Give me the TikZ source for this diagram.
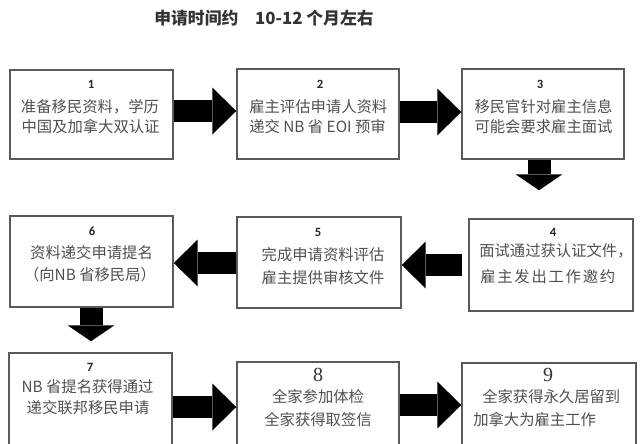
\documentclass[tikz,border=0pt]{standalone}
\usepackage{fontspec}
\usetikzlibrary{arrows.meta,calc}
\newfontfamily\cjk{Noto Sans CJK SC}
\newfontfamily\calnum{Carlito}
\newfontfamily\sernum{Liberation Serif}
\newdimen\pxu \pxu=0.75pt
\definecolor{txtgray}{HTML}{505050}
\definecolor{boxgray}{HTML}{5A5A5A}
\definecolor{titlegray}{HTML}{333333}
\begin{document}
\begin{tikzpicture}[x=0.75pt,y=-0.75pt,
  stepbox/.style={draw=boxgray, line width=1.1pt, inner sep=0pt},
  txtline/.style={font=\cjk\fontsize{11.5}{14}\selectfont, text=txtgray, inner sep=0pt},
  numlab/.style={font=\calnum\bfseries\fontsize{9.5}{11}\selectfont, text=black!85, inner sep=0pt},
  bignum/.style={font=\sernum\fontsize{15}{17}\selectfont, text=black!80, inner sep=0pt},
  titletext/.style={font=\cjk\bfseries\fontsize{12.6}{15}\selectfont, text=titlegray, inner sep=0pt},
  blockarrow/.style={line width=17pt, -{Triangle[width=35.25pt,length=18pt,line width=0pt]}},
  blockarrowv/.style={line width=17.25pt, -{Triangle[width=35.25pt,length=12pt,line width=0pt]}}
]
\useasboundingbox (0,0) rectangle (641,443);
\clip (0,0) rectangle (641,443);
\fill[white] (0,0) rectangle (641,443);

% title
\node[titletext] (title) at (264,18) {申请时间约\hspace{1em}10-12 个月左右};

% boxes
\node[stepbox, minimum width=163\pxu, minimum height=89\pxu] (b1) at (91.5,114.5) {};
\node[stepbox, minimum width=162\pxu, minimum height=90\pxu] (b2) at (318,114) {};
\node[stepbox, minimum width=162\pxu, minimum height=90\pxu] (b3) at (543,114) {};
\node[stepbox, minimum width=164\pxu, minimum height=92\pxu] (b4) at (551,265) {};
\node[stepbox, minimum width=164\pxu, minimum height=91\pxu] (b5) at (319,262.5) {};
\node[stepbox, minimum width=163\pxu, minimum height=91\pxu] (b6) at (91.5,261.5) {};
\node[stepbox, minimum width=163\pxu, minimum height=107\pxu] (b7) at (90.5,406.5) {};
\node[stepbox, minimum width=162\pxu, minimum height=98\pxu] (b8) at (318,411) {};
\node[stepbox, minimum width=174\pxu, minimum height=97\pxu] (b9) at (549,411.5) {};

% numbers
\node[numlab] (n1) at (91,84) {1};
\node[numlab] (n2) at (320,84) {2};
\node[numlab] (n3) at (540,84) {3};
\node[numlab] (n4) at (553,232) {4};
\node[numlab] (n5) at (318,232) {5};
\node[numlab] (n6) at (92,231) {6};
\node[numlab] (n7) at (90,367) {7};
\node[bignum] (n8) at (318,375) {8};
\node[bignum] (n9) at (548,375) {9};

% texts
\node[txtline] (t1a) at (90,107) {准备移民资料，学历};
\node[txtline] (t1b) at (90.5,127) {中国及加拿大双认证};
\node[txtline, anchor=west] (t2a) at (249,107) {雇主评估申请人资料};
\node[txtline, anchor=west] (t2b) at (249,127) {递交 NB 省 EOI 预审};
\node[txtline] (t3a) at (543.5,107) {移民官针对雇主信息};
\node[txtline] (t3b) at (543.5,127) {可能会要求雇主面试};
\node[txtline, anchor=west] (t4a) at (479,251) {面试通过获认证文件，};
\node[txtline, anchor=west] (t4b) at (480,277) {\makebox[135\pxu][s]{雇\hfill 主\hfill 发\hfill 出\hfill 工\hfill 作\hfill 邀\hfill 约}};
\node[txtline] (t5a) at (323,255) {完成申请资料评估};
\node[txtline] (t5b) at (323,278) {雇主提供审核文件};
\node[txtline] (t6a) at (91.5,253) {资料递交申请提名};
\node[txtline] (t6b) at (90,275) {（向NB 省移民局）};
\node[txtline] (t7a) at (87.5,387) {NB 省提名获得通过};
\node[txtline] (t7b) at (88,408) {递交联邦移民申请};
\node[txtline] (t8a) at (318,397) {全家参加体检};
\node[txtline] (t8b) at (318,420) {全家获得取签信};
\node[txtline, anchor=west] (t9a) at (482,397) {全家获得永久居留到};
\node[txtline, anchor=west] (t9b) at (473,420) {加拿大为雇主工作};

% connectors
\draw[blockarrow] (b1.east |- 0,111) -- (b2.west |- 0,111);
\draw[blockarrow] (b2.east |- 0,112) -- (b3.west |- 0,112);
\coordinate (c4) at ($(b4.west |- 0,265)+(-6,0)$);
\draw[blockarrow] (c4) -- (b5.east |- 0,265);
\draw[blockarrow] (b5.west |- 0,263) -- (b6.east |- 0,263);
\draw[blockarrow] (b7.east |- 0,407) -- (b8.west |- 0,407);
\draw[blockarrow] (b8.east |- 0,405) -- (b9.west |- 0,405);
\coordinate (c34) at ($(b4.north -| 539,0)+(0,-28)$);
\draw[blockarrowv] (b3.south -| 539,0) -- (c34);
\coordinate (c67) at ($(b7.north -| 91,0)+(0,-11)$);
\draw[blockarrowv] (b6.south -| 91,0) -- (c67);
\end{tikzpicture}
\end{document}
